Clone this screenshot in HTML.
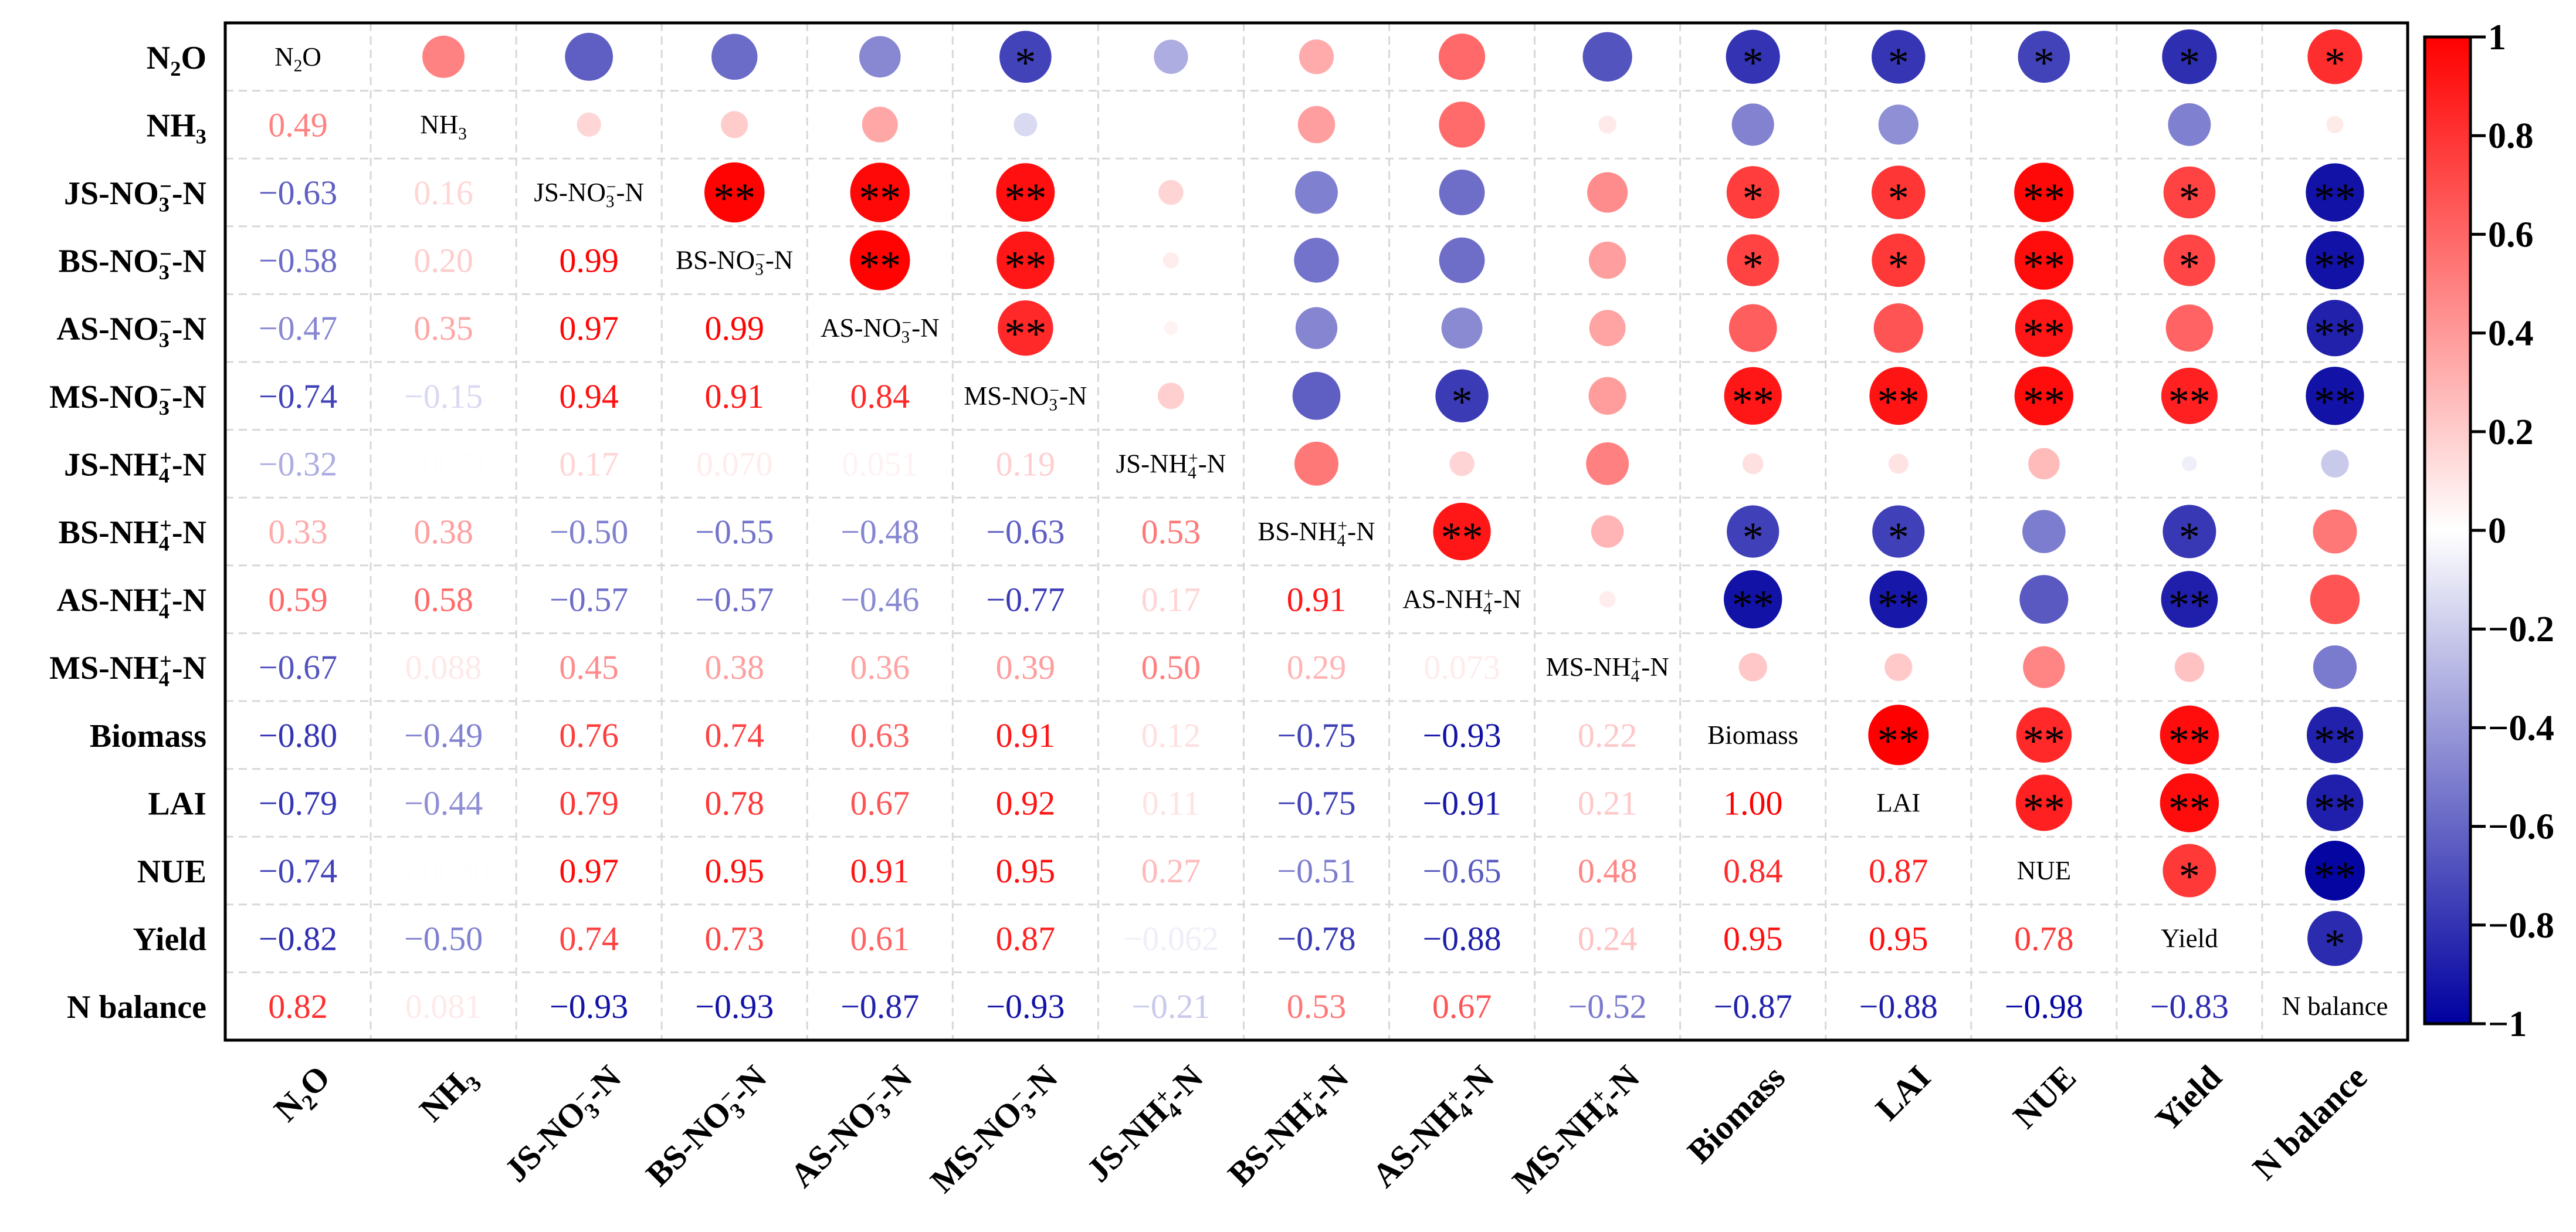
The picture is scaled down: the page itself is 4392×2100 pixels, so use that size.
<!DOCTYPE html>
<html><head><meta charset="utf-8"><style>
html,body{margin:0;padding:0;background:#fff;}
svg{display:block;font-family:"Liberation Serif",serif;}
</style></head><body>
<svg id="chart" width="4392" height="2100" viewBox="0 0 4392 2100" xmlns="http://www.w3.org/2000/svg">
<defs>
<linearGradient id="cbgrad" x1="0" y1="0" x2="0" y2="1">
<stop offset="0" stop-color="rgb(255,0,0)"/>
<stop offset="0.5" stop-color="rgb(255,255,255)"/>
<stop offset="1" stop-color="rgb(0,0,160)"/>
</linearGradient>
</defs>
<g id="grid"></g>
<g id="marks"></g>
<g id="labels"></g>
<rect x="384" y="39" width="3721" height="1734" fill="none" stroke="#000" stroke-width="5"/>
<g id="cbar"></g>
</svg>
<script>
// ---- data ----
const variables = ["N2O","NH3","JS-NO3-N","BS-NO3-N","AS-NO3-N","MS-NO3-N","JS-NH4-N","BS-NH4-N","AS-NH4-N","MS-NH4-N","Biomass","LAI","NUE","Yield","N balance"];
const labelParts = [
 [["N",""],["2","sub"],["O",""]],
 [["NH",""],["3","sub"]],
 [["JS-NO",""],["3","sub"],["−","sup"],["-N",""]],
 [["BS-NO",""],["3","sub"],["−","sup"],["-N",""]],
 [["AS-NO",""],["3","sub"],["−","sup"],["-N",""]],
 [["MS-NO",""],["3","sub"],["−","sup"],["-N",""]],
 [["JS-NH",""],["4","sub"],["+","sup"],["-N",""]],
 [["BS-NH",""],["4","sub"],["+","sup"],["-N",""]],
 [["AS-NH",""],["4","sub"],["+","sup"],["-N",""]],
 [["MS-NH",""],["4","sub"],["+","sup"],["-N",""]],
 [["Biomass",""]],[["LAI",""]],[["NUE",""]],[["Yield",""]],[["N balance",""]]
];
const lowerValues = [
 [],
 [0.49],
 [-0.63,0.16],
 [-0.58,0.20,0.99],
 [-0.47,0.35,0.97,0.99],
 [-0.74,-0.15,0.94,0.91,0.84],
 [-0.32,0.0071,0.17,0.070,0.051,0.19],
 [0.33,0.38,-0.50,-0.55,-0.48,-0.63,0.53],
 [0.59,0.58,-0.57,-0.57,-0.46,-0.77,0.17,0.91],
 [-0.67,0.088,0.45,0.38,0.36,0.39,0.50,0.29,0.073],
 [-0.80,-0.49,0.76,0.74,0.63,0.91,0.12,-0.75,-0.93,0.22],
 [-0.79,-0.44,0.79,0.78,0.67,0.92,0.11,-0.75,-0.91,0.21,1.00],
 [-0.74,0.003,0.97,0.95,0.91,0.95,0.27,-0.51,-0.65,0.48,0.84,0.87],
 [-0.82,-0.50,0.74,0.73,0.61,0.87,-0.062,-0.78,-0.88,0.24,0.95,0.95,0.78],
 [0.82,0.081,-0.93,-0.93,-0.87,-0.93,-0.21,0.53,0.67,-0.52,-0.87,-0.88,-0.98,-0.83]
];
const significance = [
 ["","","","","*","","","","","*","*","*","*","*"],
 ["","","","","","","","","","","","",""],
 ["**","**","**","","","","","*","*","**","*","**"],
 ["**","**","","","","","*","*","**","*","**"],
 ["**","","","","","","","**","","**"],
 ["","","*","","**","**","**","**","**"],
 ["","","","","","","",""],
 ["**","","*","*","","*",""],
 ["","**","**","","**",""],
 ["","","","",""],
 ["**","**","**","**"],
 ["**","**","**"],
 ["*","**"],
 ["*"],
 []
];
const cbTicks = [1,0.8,0.6,0.4,0.2,0,-0.2,-0.4,-0.6,-0.8,-1];
const cbTickLabels = ["1","0.8","0.6","0.4","0.2","0","−0.2","−0.4","−0.6","−0.8","−1"];

// ---- layout ----
const NS="http://www.w3.org/2000/svg";
const X0=384,Y0=39,W=3721,H=1734,N=variables.length;
const cw=W/N, ch=H/N;
const xC=j=>X0+(j+0.5)*cw;
const yC=i=>Y0+(i+0.5)*ch;
const CB_TOP=63,CB_BOT=1745,CB_X=4134,CB_W=78;
const cbY=v=>CB_TOP+(1-v)/2*(CB_BOT-CB_TOP);
const rScale=v=>51.5*Math.sqrt(Math.abs(v));
function color(v){
  const a=Math.min(1,Math.abs(v));
  if(v>=0){const g=Math.round(255*(1-a));return `rgb(255,${g},${g})`;}
  const rg=Math.round(255*(1-a)), b=Math.round(255-a*95);return `rgb(${rg},${rg},${b})`;
}
function fmt(v){
  let s;
  if(Math.abs(v)<0.1 && v!==0) s=v.toPrecision(2); else s=v.toFixed(2);
  return s.replace("-","−");
}
function mk(tag,attrs,parent){const e=document.createElementNS(NS,tag);for(const k in attrs)e.setAttribute(k,attrs[k]);if(parent)parent.appendChild(e);return e;}
function addParts(t,parts,fs){
  parts.forEach((p,idx)=>{
    const ts=mk("tspan",{},t);
    ts.textContent=p[0];
    if(p[1]==="sub"){ts.setAttribute("font-size",fs*0.65);ts.setAttribute("dy",fs*0.22);}
    else if(p[1]==="sup"){ts.setAttribute("font-size",fs*0.65);ts.setAttribute("dy",-fs*0.55);ts.setAttribute("dx",-fs*0.3);}
    else if(idx>0){
      const prev=parts[idx-1];
      if(prev[1]==="sup"){ts.setAttribute("dy",fs*0.33);}
      else if(prev[1]==="sub"){ts.setAttribute("dy",-fs*0.22);}
    }
  });
}
function value(i,j){return i>j?lowerValues[i][j]:lowerValues[j][i];}

const grid=document.getElementById("grid");
for(let k=1;k<N;k++){
  const gv=mk("line",{x1:X0+k*cw,y1:Y0,x2:X0+k*cw,y2:Y0+H,stroke:"#d8d8d8","stroke-width":3,"stroke-dasharray":"14,9"},grid);
  
  
  const gh=mk("line",{x1:X0,y1:Y0+k*ch,x2:X0+W,y2:Y0+k*ch,stroke:"#d8d8d8","stroke-width":3,"stroke-dasharray":"14,9"},grid);
  
  
}

const marks=document.getElementById("marks");
for(let i=0;i<N;i++){
  for(let j=0;j<N;j++){
    if(i===j){
      const t=mk("text",{x:xC(j),y:yC(i)+15,"text-anchor":"middle","font-size":45,fill:"#000"},marks);
      
      
      addParts(t,labelParts[i],45);
    } else if(i>j){
      const v=value(i,j);
      const t=mk("text",{x:xC(j),y:yC(i)+20,"text-anchor":"middle","font-size":58,fill:color(v)},marks);
      
      
      t.textContent=fmt(v);
    } else {
      const v=value(i,j);
      const c=mk("circle",{cx:xC(j),cy:yC(i),r:rScale(v),fill:color(v)},marks);
      
      
      const s=significance[i][j-i-1];
      if(s){
        const t=mk("text",{x:xC(j),y:yC(i)+34,"text-anchor":"middle","font-size":72,fill:"#000"},marks);
        
        
        t.textContent=s;
      }
    }
  }
}

const labels=document.getElementById("labels");
for(let i=0;i<N;i++){
  const t=mk("text",{x:352,y:yC(i)+20,"text-anchor":"end","font-size":56,"font-weight":"bold",fill:"#000"},labels);
  
  
  addParts(t,labelParts[i],56);
  const ax=xC(i)+58, ay=1840;
  const c=mk("text",{x:ax,y:ay,"text-anchor":"end","font-size":58,"font-weight":"bold",fill:"#000",transform:`rotate(-45 ${ax} ${ay})`},labels);
  
  
  addParts(c,labelParts[i],58);
}

const cb=document.getElementById("cbar");
const cr=mk("rect",{x:CB_X,y:CB_TOP,width:CB_W,height:CB_BOT-CB_TOP,fill:"url(#cbgrad)",stroke:"#000","stroke-width":5},cb);


for(let k=0;k<cbTicks.length;k++){
  const y=cbY(cbTicks[k]);
  const l=mk("line",{x1:CB_X+CB_W,y1:y,x2:CB_X+CB_W+26,y2:y,stroke:"#000","stroke-width":5},cb);
  
  
  const t=mk("text",{x:CB_X+CB_W+30,y:y+21,"font-size":62,"font-weight":"bold",fill:"#000"},cb);
  
  
  t.textContent=cbTickLabels[k];
}
</script>
</body></html>
